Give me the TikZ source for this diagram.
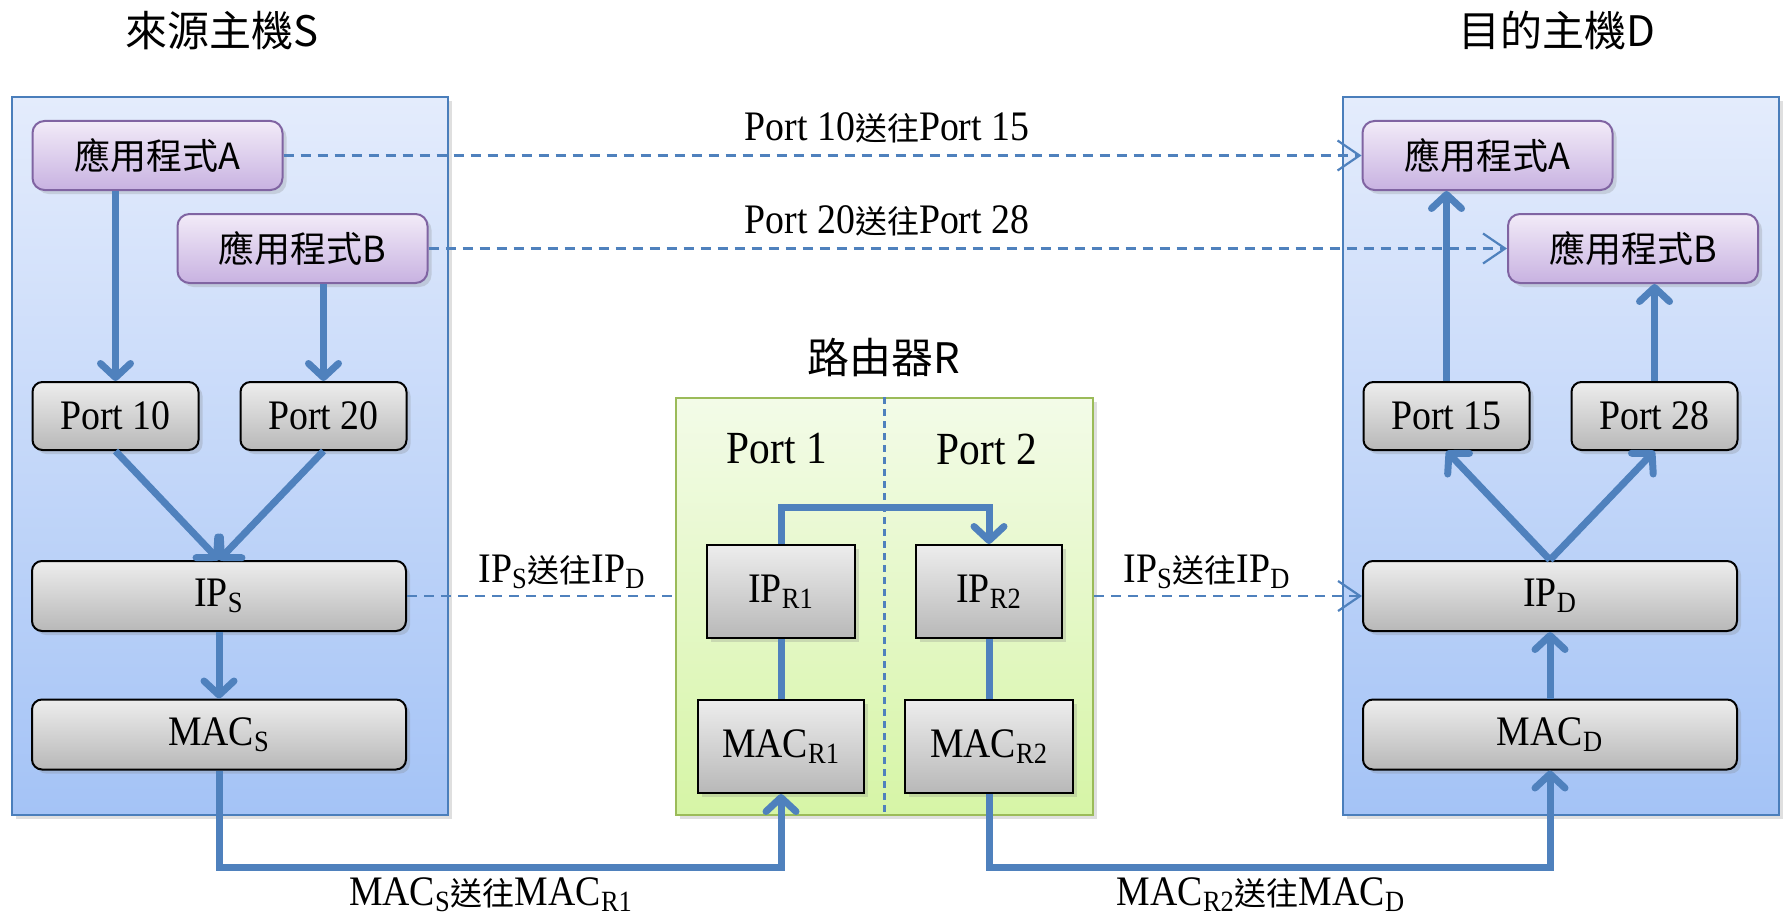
\documentclass[tikz,border=0pt]{standalone}
\usepackage{fontspec}
\setmainfont{Liberation Serif}[FakeStretch=0.9]
\newfontfamily\cjk{Noto Sans CJK TC}
\usepackage{tikz}
\usepackage{xcolor}
\usetikzlibrary{arrows.meta}
\usetikzlibrary{shadows}
\definecolor{hostline}{RGB}{74,126,187}
\definecolor{hosttop}{RGB}{228,236,252}
\definecolor{hostbot}{RGB}{164,195,246}
\definecolor{rtrline}{RGB}{155,187,89}
\definecolor{rtrtop}{RGB}{243,251,232}
\definecolor{rtrbot}{RGB}{214,245,166}
\definecolor{appline}{RGB}{128,100,162}
\definecolor{apptop}{RGB}{242,235,248}
\definecolor{appbot}{RGB}{200,178,225}
\definecolor{layertop}{RGB}{237,237,237}
\definecolor{layerbot}{RGB}{184,184,184}
\definecolor{flowblue}{RGB}{79,129,189}

\begin{document}
\begin{tikzpicture}[x=0.5pt,y=-0.5pt,
        shade/.style={drop shadow={opacity=0.25,shadow xshift=2pt,shadow yshift=-2pt}},
        host/.style={shade,draw=hostline,line width=1pt,top color=hosttop,bottom color=hostbot,minimum width=218pt,minimum height=359pt,inner sep=0pt},
        rtrbox/.style={shade,draw=rtrline,line width=1pt,top color=rtrtop,bottom color=rtrbot,minimum width=208.5pt,minimum height=208.5pt,inner sep=0pt},
        app/.style={shade,draw=appline,line width=1pt,rounded corners=6pt,top color=apptop,bottom color=appbot,minimum width=125pt,minimum height=34.5pt,inner sep=0pt,font=\cjk\fontsize{18}{20}\selectfont},
        layer/.style={shade,draw=black,line width=1pt,rounded corners=5pt,top color=layertop,bottom color=layerbot,inner sep=0pt,font=\fontsize{21}{24}\selectfont},
        port/.style={layer,minimum width=83pt,minimum height=34pt},
        wide/.style={layer,minimum width=187pt,minimum height=35pt},
        rlayer/.style={layer,rounded corners=0pt,minimum height=46.5pt},
        title/.style={font=\cjk\fontsize{21}{24}\selectfont},
        msgtext/.style={font=\fontsize{21}{24}\selectfont},
        flow/.style={draw=flowblue,line width=3.5pt,-{Straight Barb[round,length=7pt,width=15pt]}},
        link/.style={draw=flowblue,line width=3.5pt},
        msg/.style={draw=flowblue,line width=1.1pt,dash pattern=on 5pt off 3.5pt},
        msgarrow/.style={msg,-{Straight Barb[length=11pt,width=15pt]}}]
        \useasboundingbox (0,0) rectangle (1789,920);

        \node[host] (hostS) at (230,456) {};
        \node[host] (hostD) at (1560.5,456) {};
        \node[rtrbox] (rtr) at (884.5,606.5) {};
        \draw[msg,dash pattern=on 3.5pt off 2.5pt] (rtr.north) -- (rtr.south);

        \node[title] (titleS) at (222,31) {來源主機S};
        \node[title] (titleD) at (1557,31) {目的主機D};
        \node[title] (titleR) at (884,358) {路由器R};
        \node[font=\fontsize{23}{26}\selectfont] (port1) at (777,449) {Port 1};
        \node[font=\fontsize{23}{26}\selectfont] (port2) at (987,449) {Port 2};

        \node[app] (appSA) at (157.5,155.5) {應用程式A};
        \node[app] (appSB) at (302.5,248.5) {應用程式B};
        \node[port] (portS10) at (115.5,416) {Port 10};
        \node[port] (portS20) at (323.5,416) {Port 20};
        \node[wide] (ipS) at (219,596) {IP\textsubscript{S}};
        \node[wide] (macS) at (219,734.5) {MAC\textsubscript{S}};

        \node[app] (appDA) at (1487.5,155.5) {應用程式A};
        \node[app] (appDB) at (1633,248.5) {應用程式B};
        \node[port] (portD15) at (1446.5,416) {Port 15};
        \node[port] (portD28) at (1654.5,416) {Port 28};
        \node[wide] (ipD) at (1550,596) {IP\textsubscript{D}};
        \node[wide] (macD) at (1550,734.5) {MAC\textsubscript{D}};

        \node[rlayer,minimum width=74pt] (ipR1) at (781,591.5) {IP\textsubscript{R1}};
        \node[rlayer,minimum width=73pt] (ipR2) at (989,591.5) {IP\textsubscript{R2}};
        \node[rlayer,minimum width=83pt] (macR1) at (781,746.5) {MAC\textsubscript{R1}};
        \node[rlayer,minimum width=84pt] (macR2) at (989,746.5) {MAC\textsubscript{R2}};

        \draw[msgarrow] (appSA.east) -- (appDA.west);
        \draw[msgarrow] (appSB.east) -- (appDB.west);
        \draw[msg] (ipS.east) -- (ipS.east -| rtr.west);
        \draw[msgarrow] (ipD.west -| rtr.east) -- (ipD.west);
        \node[msgtext] (lblA) at (887,128) {Port 10{\cjk\fontsize{16}{20}\selectfont 送往}Port 15};
        \node[msgtext] (lblB) at (887,221) {Port 20{\cjk\fontsize{16}{20}\selectfont 送往}Port 28};
        \node[msgtext] (lblIPS) at (562,572) {IP\textsubscript{S}{\cjk\fontsize{16}{20}\selectfont 送往}IP\textsubscript{D}};
        \node[msgtext] (lblIPD) at (1207,572) {IP\textsubscript{S}{\cjk\fontsize{16}{20}\selectfont 送往}IP\textsubscript{D}};
        \node[msgtext] (lblMACS) at (491,895) {MAC\textsubscript{S}{\cjk\fontsize{16}{20}\selectfont 送往}MAC\textsubscript{R1}};
        \node[msgtext] (lblMACD) at (1261,895) {MAC\textsubscript{R2}{\cjk\fontsize{16}{20}\selectfont 送往}MAC\textsubscript{D}};

        \draw[flow] (portS10.north |- appSA.south) -- (portS10.north);
        \draw[flow] (portS20.north |- appSB.south) -- (portS20.north);
        \draw[flow] (portS10.south) -- (ipS.north);
        \draw[flow] (portS20.south) -- (ipS.north);
        \draw[flow] (ipS.south) -- (macS.north);

        \coordinate (bend) at (781,507);
        \coordinate (base) at (0,867);
        \draw[flow] (ipR1.north) -- (bend) -| (ipR2.north);
        \draw[link] (ipR1.south) -- (macR1.north);
        \draw[link] (ipR2.south) -- (macR2.north);
        \draw[flow] (macS.south) -- (macS.south |- base) -| (macR1.south);
        \draw[flow] (macR2.south) -- (macR2.south |- base) -| (macD.south);

        \draw[flow] (macD.north) -- (ipD.south);
        \draw[flow] (ipD.north) -- (portD15.south);
        \draw[flow] (ipD.north) -- (portD28.south);
        \draw[flow] (portD15.north) -- (portD15.north |- appDA.south);
        \draw[flow] (portD28.north) -- (portD28.north |- appDB.south);
\end{tikzpicture}
\end{document}
